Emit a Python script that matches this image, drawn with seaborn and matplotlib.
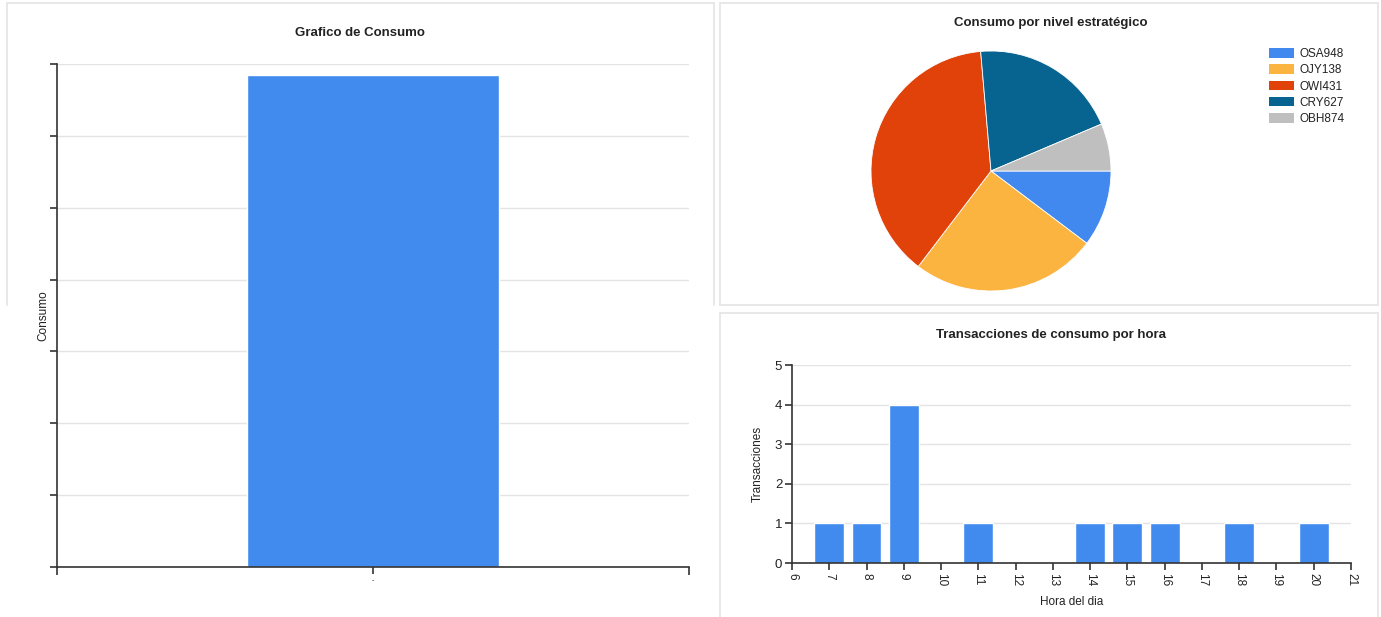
import matplotlib
matplotlib.use("Agg")
import matplotlib.pyplot as plt
import seaborn as sns
import pandas as pd
from matplotlib.patches import Patch
from matplotlib.lines import Line2D

# ---------------- data ----------------
consumo_categorias = ["-"]
consumo_valores = [6.85]
consumo_yticks = [0, 1, 2, 3, 4, 5, 6, 7]

nivel_labels = ["OSA948", "OJY138", "OWI431", "CRY627", "OBH874"]
nivel_valores = [10.3, 25.1, 38.3, 20.0, 6.4]
nivel_colores = ["#4189ef", "#fbb440", "#e04209", "#076491", "#bfbfbf"]

horas = [7, 8, 9, 11, 14, 15, 16, 18, 20]
transacciones = [1, 1, 4, 1, 1, 1, 1, 1, 1]
horas_ticks = list(range(6, 22))
trans_ticks = [0, 1, 2, 3, 4, 5]

BLUE = "#418bef"
GRID = "#e4e4e4"
SPINE = "#333333"

sns.set_theme(style="white")
plt.rcParams['font.family'] = ['Liberation Sans', 'DejaVu Sans']

W, H = 1381, 617
fig = plt.figure(figsize=(W / 100, H / 100), dpi=100)
fig.patch.set_facecolor("white")


def fx(px):
    return px / W


def fy(py):
    return 1 - py / H


def fline(x0, y0, x1, y1):
    fig.add_artist(Line2D([fx(x0), fx(x1)], [fy(y0), fy(y1)],
                          transform=fig.transFigure, color="#e6e6e6", lw=1.3))


# panel frames
fline(7, 3, 714, 3)
fline(7, 3, 7, 305)
fline(714, 3, 714, 305)
fline(720, 3, 1378, 3)
fline(720, 3, 720, 305)
fline(1378, 3, 1378, 305)
fline(720, 305, 1378, 305)
fline(720, 313, 1378, 313)
fline(720, 313, 720, 617)
fline(1378, 313, 1378, 617)


def style_axes(ax):
    for s in ("top", "right"):
        ax.spines[s].set_visible(False)
    for s in ("left", "bottom"):
        ax.spines[s].set_color(SPINE)
        ax.spines[s].set_linewidth(1.2)
    ax.yaxis.grid(True, color=GRID, lw=1)
    ax.xaxis.grid(False)
    ax.set_axisbelow(True)
    ax.tick_params(axis="both", direction="out", length=5, width=1.2,
                   color=SPINE, left=True, bottom=True, labelsize=8,
                   labelcolor="#222222", pad=2)


# ---------------- left: Grafico de Consumo ----------------
ax1 = fig.add_axes([fx(57), fy(567), fx(689) - fx(57), (567 - 64) / H])
df1 = pd.DataFrame({"cat": consumo_categorias, "val": consumo_valores})
sns.barplot(data=df1, x="cat", y="val", color=BLUE, width=0.4,
            saturation=1, ax=ax1)
ax1.set_xlim(-0.5, 0.5)
ax1.set_ylim(0, 7)
style_axes(ax1)
ax1.set_yticks(consumo_yticks)
ax1.set_yticklabels([])
ax1.set_xticks([0])
ax1.set_xticklabels(["-"], fontsize=5)
ax1.set_xticks([-0.5, 0.5], minor=True)
ax1.tick_params(axis="x", which="minor", direction="out", length=6,
                width=1.2, color=SPINE, bottom=True)
ax1.set_xlabel("")
ax1.set_ylabel("Consumo", fontsize=8.5, color="#222222")
ax1.yaxis.set_label_coords(-0.012, 0.5)
fig.text(fx(360), fy(33), "Grafico de Consumo", ha="center", va="center",
         fontsize=9.5, fontweight="bold", color="#222222")

# ---------------- top right: pie ----------------
ax2 = fig.add_axes([fx(871), fy(291), 240 / W, 240 / H])
ax2.pie(nivel_valores, colors=nivel_colores, startangle=0, counterclock=False,
        wedgeprops=dict(linewidth=0.6, edgecolor="white"))
ax2.set_xlim(-1.0, 1.0)
ax2.set_ylim(-1.0, 1.0)
ax2.set_aspect("equal")
fig.text(fx(1051), fy(23), "Consumo por nivel estratégico", ha="center",
         va="center", fontsize=9.5, fontweight="bold", color="#222222")
handles = [Patch(facecolor=c, edgecolor="none") for c in nivel_colores]
fig.legend(handles, nivel_labels, loc="upper left",
           bbox_to_anchor=(fx(1269), fy(48)), bbox_transform=fig.transFigure,
           frameon=False, fontsize=8.5, handlelength=2.1, handleheight=0.85,
           labelspacing=0.36, handletextpad=0.5, borderpad=0,
           borderaxespad=0, labelcolor="#222222")

# ---------------- bottom right: transacciones ----------------
ax3 = fig.add_axes([fx(792), fy(563), 559 / W, 198 / H])
df3 = pd.DataFrame({"hora": horas, "n": transacciones})
sns.barplot(data=df3, x="hora", y="n", native_scale=True, color=BLUE,
            width=0.8, saturation=1, ax=ax3)
ax3.set_xlim(6, 21)
ax3.set_ylim(0, 5)
style_axes(ax3)
ax3.set_yticks(trans_ticks)
ax3.set_yticklabels([str(t) for t in trans_ticks], fontsize=9.5)
ax3.set_xticks(horas_ticks)
ax3.set_xticklabels([str(h) for h in horas_ticks], rotation=-90, fontsize=8.5)
ax3.set_ylabel("Transacciones", fontsize=8.5, color="#222222")
ax3.yaxis.set_label_coords(-0.05, 0.5)
ax3.set_xlabel("Hora del dia", fontsize=8.5, color="#222222")
ax3.xaxis.set_label_coords(0.5, -0.165)
fig.text(fx(1051), fy(335), "Transacciones de consumo por hora", ha="center",
         va="center", fontsize=9.5, fontweight="bold", color="#222222")

fig.savefig("out.png", dpi=100, facecolor="white")
